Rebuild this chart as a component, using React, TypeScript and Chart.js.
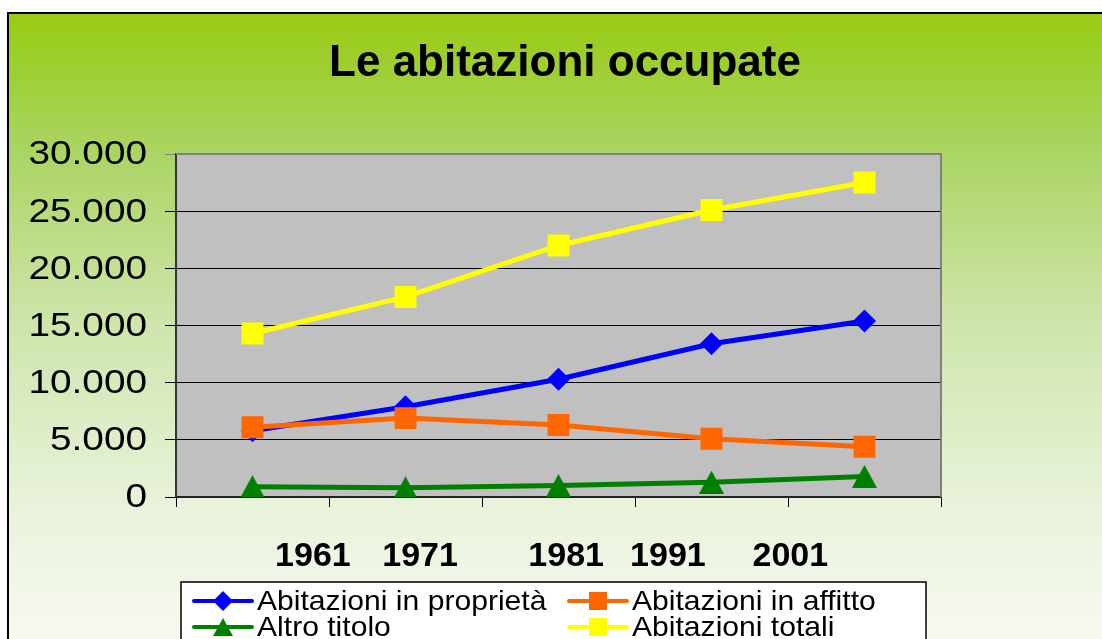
import React, { useEffect, useRef } from 'react';
import { Chart, registerables } from 'chart.js';

Chart.register(...registerables);

// ---- data ----
const categories = ['1961', '1971', '1981', '1991', '2001'];
const proprieta = [5800, 7900, 10300, 13400, 15400];
const affitto = [6100, 6900, 6300, 5100, 4400];
const altroTitolo = [900, 800, 1000, 1300, 1800];
const totali = [14300, 17500, 22000, 25100, 27500];
const seriesNames = [
  'Abitazioni in proprietà',
  'Abitazioni in affitto',
  'Altro titolo',
  'Abitazioni totali',
];
const chartTitle = 'Le abitazioni occupate';
const yMin = 0;
const yMax = 30000;
const yStep = 5000;

// ---- layout / style ----
const W = 1102;
const H = 639;
const FONT = '"Liberation Sans", Arial, sans-serif';
const xLabelFractions = [0.179, 0.319, 0.51, 0.643, 0.803];

const fmt = (v: number) => String(v).replace(/\B(?=(\d{3})+(?!\d))/g, '.');

function triangleCanvas(w: number, h: number, color: string) {
  const c = document.createElement('canvas');
  c.width = w;
  c.height = h;
  const g = c.getContext('2d')!;
  g.fillStyle = color;
  g.beginPath();
  g.moveTo(w / 2, 0);
  g.lineTo(w, h);
  g.lineTo(0, h);
  g.closePath();
  g.fill();
  return c;
}

export default function App() {
  const ref = useRef<HTMLCanvasElement>(null);

  useEffect(() => {
    document.body.style.margin = '0';
    const canvas = ref.current!;
    const tri = triangleCanvas(25, 23, '#008000');
    const triSmall = triangleCanvas(20, 18, '#008000');

    const bgPlugin = {
      id: 'bg',
      beforeDraw(chart: any) {
        const { ctx, chartArea } = chart;
        ctx.save();
        ctx.fillStyle = '#ffffff';
        ctx.fillRect(0, 0, W, H);
        const g = ctx.createLinearGradient(0, 14, 0, H);
        g.addColorStop(0, '#98cb12');
        g.addColorStop(0.2, '#a9d35c');
        g.addColorStop(0.5, '#cfe5ad');
        g.addColorStop(0.8, '#eaf3dd');
        g.addColorStop(1, '#f6f9f0');
        ctx.fillStyle = g;
        ctx.fillRect(9, 14, W - 9, H - 14);
        ctx.strokeStyle = '#000';
        ctx.lineWidth = 2;
        ctx.beginPath();
        ctx.moveTo(W + 2, 13);
        ctx.lineTo(8, 13);
        ctx.lineTo(8, H + 2);
        ctx.stroke();
        // plot area
        ctx.fillStyle = '#c0c0c0';
        ctx.fillRect(chartArea.left, chartArea.top, chartArea.right - chartArea.left, chartArea.bottom - chartArea.top);
        ctx.restore();
      },
      beforeDatasetsDraw(chart: any) {
        const { ctx, chartArea } = chart;
        ctx.save();
        ctx.strokeStyle = '#808080';
        ctx.lineWidth = 2;
        ctx.beginPath();
        ctx.moveTo(chartArea.left, chartArea.top);
        ctx.lineTo(chartArea.right, chartArea.top);
        ctx.lineTo(chartArea.right, chartArea.bottom);
        ctx.stroke();
        ctx.restore();
      },
      afterDraw(chart: any) {
        const { ctx, chartArea } = chart;
        ctx.save();
        // title
        ctx.fillStyle = '#000';
        ctx.font = `bold 44px ${FONT}`;
        ctx.textAlign = 'center';
        ctx.textBaseline = 'alphabetic';
        ctx.fillText(chartTitle, 565, 76);
        // y tick labels (slightly widened like the original)
        const ys = chart.scales.y;
        ctx.font = `34px ${FONT}`;
        ctx.textAlign = 'right';
        ctx.textBaseline = 'middle';
        ys.ticks.forEach((t: any) => {
          const py = ys.getPixelForValue(t.value);
          ctx.save();
          ctx.translate(147, py + 1);
          ctx.scale(1.14, 1);
          ctx.fillText(fmt(t.value), 0, 0);
          ctx.restore();
        });
        // category labels
        ctx.font = `bold 34px ${FONT}`;
        ctx.textAlign = 'center';
        ctx.textBaseline = 'middle';
        const cw = chartArea.right - chartArea.left;
        categories.forEach((c, i) => {
          ctx.fillText(c, chartArea.left + xLabelFractions[i] * cw, 557);
        });
        // legend
        const lx = 181, ly = 582, lw = 745, lh = 70;
        ctx.fillStyle = '#ffffff';
        ctx.fillRect(lx, ly, lw, lh);
        ctx.strokeStyle = '#000';
        ctx.lineWidth = 1.5;
        ctx.strokeRect(lx, ly, lw, lh);
        ctx.font = `28px ${FONT}`;
        ctx.textAlign = 'left';
        const colX = [192, 567];
        const rowY = [601, 627];
        chart.data.datasets.forEach((ds: any, i: number) => {
          const x0 = colX[i % 2];
          const y = rowY[Math.floor(i / 2)];
          const color = ds.borderColor;
          ctx.strokeStyle = color;
          ctx.lineWidth = 4;
          ctx.lineCap = 'round';
          ctx.beginPath();
          ctx.moveTo(x0 + 2, y);
          ctx.lineTo(x0 + 60, y);
          ctx.stroke();
          const cx = x0 + 31;
          ctx.fillStyle = color;
          if (ds.pointStyle === 'rectRot') {
            ctx.beginPath();
            ctx.moveTo(cx, y - 10);
            ctx.lineTo(cx + 10, y);
            ctx.lineTo(cx, y + 10);
            ctx.lineTo(cx - 10, y);
            ctx.closePath();
            ctx.fill();
          } else if (ds.pointStyle === 'rect') {
            ctx.fillRect(cx - 9, y - 9, 18, 18);
          } else {
            ctx.drawImage(triSmall, cx - 10, y - 9);
          }
          ctx.fillStyle = '#000';
          ctx.save();
          ctx.translate(x0 + 65, y + 1);
          ctx.scale(1.075, 1);
          ctx.fillText(seriesNames[i], 0, 0);
          ctx.restore();
        });
        ctx.restore();
      },
    };

    const chart = new Chart(canvas, {
      type: 'line',
      data: {
        labels: categories,
        datasets: [
          {
            label: seriesNames[0], data: proprieta, borderColor: '#0000ff', backgroundColor: '#0000ff',
            borderWidth: 5, pointStyle: 'rectRot', pointRadius: 11.5, pointBorderWidth: 0, order: 4,
          },
          {
            label: seriesNames[1], data: affitto, borderColor: '#ff6600', backgroundColor: '#ff6600',
            borderWidth: 5, pointStyle: 'rect', pointRadius: 15.5, pointBorderWidth: 0, order: 3,
          },
          {
            label: seriesNames[2], data: altroTitolo, borderColor: '#008000', backgroundColor: '#008000',
            borderWidth: 5, pointStyle: tri as any, pointRadius: 12, pointBorderWidth: 0, order: 2,
          },
          {
            label: seriesNames[3], data: totali, borderColor: '#ffff00', backgroundColor: '#ffff00',
            borderWidth: 5, pointStyle: 'rect', pointRadius: 15.5, pointBorderWidth: 0, order: 1,
          },
        ] as any,
      },
      options: {
        responsive: false,
        animation: false,
        events: [],
        layout: { padding: { left: 0, top: 154, right: 161, bottom: 132 } },
        plugins: { legend: { display: false }, title: { display: false }, tooltip: { enabled: false } },
        scales: {
          x: {
            type: 'category',
            offset: true,
            grid: {
              offset: true, drawOnChartArea: false, drawTicks: true, tickLength: 10,
              color: '#000', lineWidth: 1,
            },
            border: { display: true, color: '#222', width: 2 },
            ticks: { display: false },
            afterFit: (s: any) => { s.height = 10; },
          },
          y: {
            min: yMin, max: yMax,
            grid: {
              color: (c: any) => (c.tick && c.tick.value === yMax ? '#808080' : '#000'),
              lineWidth: 1, tickLength: 11, drawTicks: true,
            },
            border: { display: true, color: '#333', width: 2 },
            ticks: { stepSize: yStep, display: false },
            afterFit: (s: any) => { s.width = 176; },
          },
        },
      },
      plugins: [bgPlugin],
    });
    return () => chart.destroy();
  }, []);

  return (
    <div style={{ position: 'fixed', left: 0, top: 0, width: W, height: H }}>
      <canvas ref={ref} width={W} height={H} style={{ width: W, height: H, display: 'block' }} />
    </div>
  );
}
